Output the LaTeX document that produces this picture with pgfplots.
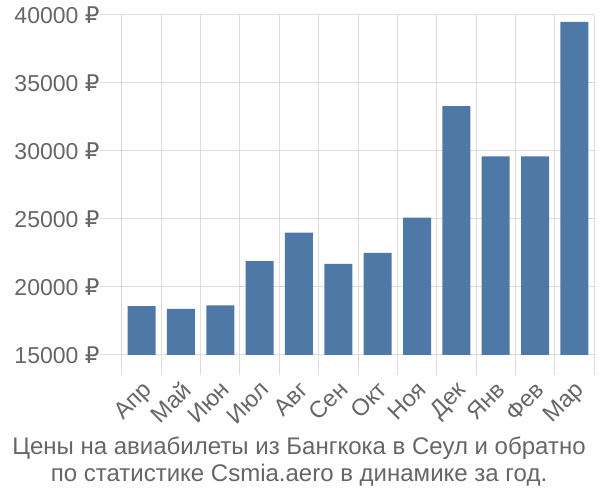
\documentclass[border=0pt]{standalone}
\usepackage{pgfplots}
\pgfplotsset{compat=1.18}
\usepackage{fontspec}
\setmainfont{Liberation Sans}
\newfontfamily\dejavu{DejaVu Sans}
\newcommand{\rub}{{\dejavu ₽}}
\definecolor{barblue}{RGB}{78,121,167}
\definecolor{gridc}{RGB}{221,221,221}
\definecolor{axc}{RGB}{170,170,170}
\definecolor{txt}{RGB}{102,102,102}
\begin{document}
\begin{tikzpicture}
\useasboundingbox (-122pt,-145pt) rectangle (478pt,355pt);
\begin{axis}[at={(0,0)}, anchor=south west, scale only axis, width=472pt, height=340pt,
 xmin=-0.5, xmax=11.5, ymin=15000, ymax=40000,
 axis line style={draw=none},
 scaled y ticks=false,
 /pgf/number format/assume math mode=true,
 ytick={15000,20000,...,40000},
 yticklabel={\pgfmathprintnumber[fixed,1000 sep={}]{\tick} \rub},
 xtick={0,...,11},
 xticklabels={Апр,Май,Июн,Июл,Авг,Сен,Окт,Ноя,Дек,Янв,Фев,Мар},
 x tick label style={rotate=45, anchor=north east, xshift=1pt, yshift=2pt, font=\fontsize{23.5}{26}\selectfont},
 major x tick style={draw=none},
 minor xtick={-0.5,0.5,...,11.5},
 xminorgrids=true, ymajorgrids=true,
 grid style={gridc, line width=1pt},
 minor grid style={gridc, line width=1pt},
 major grid style={gridc, line width=1pt},
 tick align=outside, tick pos=left,
 major tick length=22pt, minor tick length=20pt,
 tick style={gridc, line width=1pt},
 ticklabel style={text=txt},
 y tick label style={xshift=3pt, font=\fontsize{23}{26}\selectfont},
 clip=true,
]
\addplot[ybar, bar width=28pt, fill=barblue, draw=none] coordinates {
(0,18600) (1,18400) (2,18650) (3,21900) (4,24000) (5,21700) (6,22500) (7,25100) (8,33300) (9,29600) (10,29600) (11,39500)};
\draw[axc, line width=1pt] (rel axis cs:0,1) -- ([yshift=-20pt]rel axis cs:0,0);
\end{axis}
\node[anchor=base, text=txt, font=\fontsize{24}{27}\selectfont] at (177pt,-100pt) {Цены на авиабилеты из Бангкока в Сеул и обратно};
\node[anchor=base, text=txt, font=\fontsize{24}{27}\selectfont] at (177pt,-127pt) {по статистике Csmia.aero в динамике за год.};
\end{tikzpicture}
\end{document}
